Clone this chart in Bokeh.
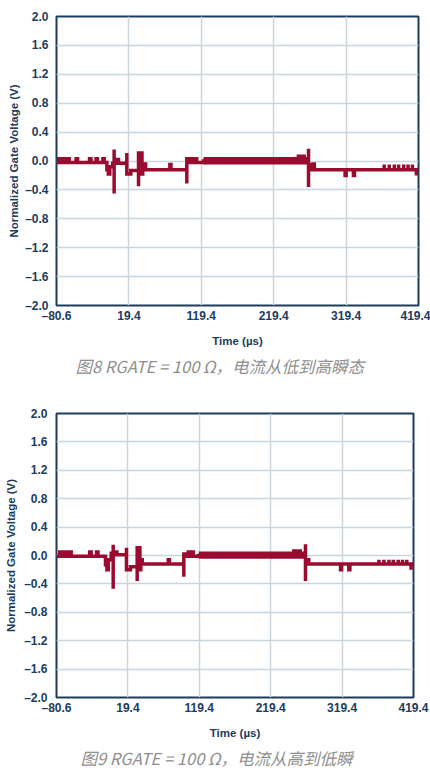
from bokeh.plotting import figure
from bokeh.layouts import column
from bokeh.models import Range1d, FixedTicker, CustomJSTickFormatter, Title
from bokeh.embed import file_html
from bokeh.resources import INLINE

# Axis ticks and labels shared by both oscilloscope captures
x_ticks = [-80.6, 19.4, 119.4, 219.4, 319.4, 419.4]
y_ticks = [-2.0, -1.6, -1.2, -0.8, -0.4, 0.0, 0.4, 0.8, 1.2, 1.6, 2.0]
x_label = "Time (µs)"
y_label = "Normalized Gate Voltage (V)"

caption_fig8 = "图8 RGATE = 100 Ω，电流从低到高瞬态"
caption_fig9 = "图9 RGATE = 100 Ω，电流从高到低瞬"

# Gate-voltage trace vertices (time in µs, normalized volts), low-to-high transient
trace_fig8 = [
    (-80.6, -0.02), (-77.5, -0.02), (-77.5, 0.03), (-75.5, 0.03), (-75.5, -0.02),
    (-71.0, -0.02), (-71.0, 0.03), (-69.0, 0.03), (-69.0, -0.02),
    (-65.0, -0.02), (-65.0, 0.03), (-63.0, 0.03), (-63.0, -0.02),
    (-53.5, -0.02), (-53.5, 0.03), (-51.5, 0.03), (-51.5, -0.02),
    (-35.0, -0.02), (-35.0, 0.03), (-33.0, 0.03), (-33.0, -0.02),
    (-26.0, -0.02), (-26.0, 0.03), (-24.0, 0.03), (-24.0, -0.02),
    (-16.5, -0.02), (-16.5, 0.03), (-14.5, 0.03), (-14.5, -0.02),
    (-11.0, -0.02), (-11.0, -0.12), (-9.0, -0.12), (-9.0, -0.18), (-7.0, -0.18),
    (-7.0, -0.08), (-3.0, -0.08), (-3.0, -0.03), (-1.0, -0.03),
    (-1.0, 0.16), (-1.0, -0.45), (-1.0, -0.03),
    (3.0, -0.03), (3.0, 0.02), (5.0, 0.02), (5.0, -0.03),
    (16.5, -0.03), (16.5, 0.11), (16.5, -0.18), (22.0, -0.18), (22.0, -0.13),
    (32.7, -0.13), (32.7, -0.35), (32.7, 0.11), (37.5, 0.11), (37.5, -0.18),
    (38.5, -0.18), (38.5, -0.12), (41.0, -0.12), (41.0, -0.04), (42.5, -0.04),
    (42.5, -0.12), (76.0, -0.12), (76.0, -0.05), (77.5, -0.05), (77.5, -0.12),
    (99.4, -0.12), (99.4, -0.31), (99.4, 0.03), (101.5, 0.03), (101.5, -0.02),
    (106.0, -0.02), (106.0, 0.03), (108.0, 0.03), (108.0, -0.02),
    (111.0, -0.02), (111.0, 0.03), (113.0, 0.03), (113.0, -0.02),
    (122.4, -0.02), (122.4, 0.0),
    (253.5, 0.0), (253.5, 0.065), (255.5, 0.065), (255.5, 0.0),
    (259.5, 0.0), (259.5, 0.065), (261.5, 0.065), (261.5, 0.0),
    (267.5, 0.0), (267.5, 0.17), (267.5, -0.36), (267.5, -0.05), (270.0, -0.05),
    (270.0, -0.12), (274.0, -0.12), (274.0, -0.04), (275.5, -0.04), (275.5, -0.12),
    (318.0, -0.12), (318.0, -0.2), (319.5, -0.2), (319.5, -0.12),
    (329.5, -0.12), (329.5, -0.2), (331.0, -0.2), (331.0, -0.12),
    (372.0, -0.12), (372.0, -0.05), (372.0, -0.12),
    (379.0, -0.12), (379.0, -0.05), (379.0, -0.12),
    (386.0, -0.12), (386.0, -0.05), (386.0, -0.12),
    (392.0, -0.12), (392.0, -0.05), (392.0, -0.12),
    (399.0, -0.12), (399.0, -0.05), (399.0, -0.12),
    (405.0, -0.12), (405.0, -0.05), (405.0, -0.12),
    (411.0, -0.12), (411.0, -0.05), (411.0, -0.12),
    (416.5, -0.12), (416.5, -0.2), (416.5, -0.12), (419.4, -0.12),
]
# Dense switching noise while the device is on (envelope of the trace)
band_fig8_t = [122.4, 267.5]
band_fig8_hi = [0.055, 0.055]
band_fig8_lo = [-0.05, -0.05]

# Gate-voltage trace vertices, high-to-low transient
trace_fig9 = [
    (-80.6, -0.01), (-76.0, -0.01), (-76.0, 0.05), (-74.0, 0.05), (-74.0, -0.01),
    (-69.0, -0.01), (-69.0, 0.05), (-67.0, 0.05), (-67.0, -0.01),
    (-62.0, -0.01), (-62.0, 0.05), (-60.0, 0.05), (-60.0, -0.01),
    (-34.0, -0.01), (-34.0, 0.05), (-32.0, 0.05), (-32.0, -0.01),
    (-24.5, -0.01), (-24.5, 0.05), (-22.5, 0.05), (-22.5, -0.01),
    (-12.0, -0.01), (-12.0, -0.13), (-10.0, -0.13), (-10.0, -0.2), (-8.0, -0.2),
    (-8.0, -0.06), (-4.0, -0.06), (-4.0, 0.03), (-1.2, 0.03),
    (-1.2, 0.15), (-1.2, -0.47), (-1.2, 0.01),
    (2.0, 0.01), (2.0, 0.05), (4.0, 0.05), (4.0, 0.01),
    (17.4, 0.01), (17.4, 0.11), (17.4, -0.2), (23.0, -0.2), (23.0, -0.16),
    (32.4, -0.16), (32.4, -0.36), (32.4, 0.11), (36.2, 0.11), (36.2, -0.2),
    (37.5, -0.2), (37.5, -0.06), (39.5, -0.06), (39.5, -0.12),
    (76.0, -0.12), (76.0, -0.06), (77.5, -0.06), (77.5, -0.12),
    (97.7, -0.12), (97.7, -0.3), (97.7, 0.02), (99.5, 0.02), (99.5, -0.01),
    (104.0, -0.01), (104.0, 0.05), (106.0, 0.05), (106.0, -0.01),
    (109.0, -0.01), (109.0, 0.05), (111.0, 0.05), (111.0, -0.01),
    (118.7, -0.01), (118.7, 0.0),
    (251.8, 0.0), (251.8, 0.065), (253.8, 0.065), (253.8, 0.0),
    (258.8, 0.0), (258.8, 0.065), (260.8, 0.065), (260.8, 0.0),
    (268.1, 0.0), (268.1, 0.16), (268.1, -0.36), (268.1, -0.06), (272.7, -0.06),
    (272.7, -0.12), (317.2, -0.12), (317.2, -0.2), (318.7, -0.2), (318.7, -0.12),
    (328.8, -0.12), (328.8, -0.2), (330.3, -0.2), (330.3, -0.12),
    (371.0, -0.12), (371.0, -0.06), (371.0, -0.12),
    (378.0, -0.12), (378.0, -0.06), (378.0, -0.12),
    (385.0, -0.12), (385.0, -0.06), (385.0, -0.12),
    (391.0, -0.12), (391.0, -0.06), (391.0, -0.12),
    (398.0, -0.12), (398.0, -0.06), (398.0, -0.12),
    (404.0, -0.12), (404.0, -0.06), (404.0, -0.12),
    (410.0, -0.12), (410.0, -0.06), (410.0, -0.12),
    (416.0, -0.12), (416.0, -0.2), (416.0, -0.12), (419.4, -0.12),
]
band_fig9_t = [118.7, 268.1]
band_fig9_hi = [0.055, 0.055]
band_fig9_lo = [-0.045, -0.045]

TRACE = "#990b2f"
NAVY = "#1c3c5e"
GRID = "#cbd5de"
FONT = "Liberation Sans"

dash_fmt = CustomJSTickFormatter(code="return tick.toFixed(1).replace('-', '\u2013');")


def scope_panel(trace, band_t, band_lo, band_hi, caption,
                fw, fh, left, right, top, bottom, cap_offset, ystand, ylab_stand):
    p = figure(frame_width=fw, frame_height=fh,
               min_border_left=left, min_border_right=right,
               min_border_top=top, min_border_bottom=bottom,
               x_range=Range1d(x_ticks[0], x_ticks[-1]),
               y_range=Range1d(y_ticks[0], y_ticks[-1]),
               output_backend="svg", toolbar_location=None)
    p.background_fill_color = "white"
    p.border_fill_color = "white"
    p.outline_line_color = NAVY
    p.outline_line_width = 2

    for ax in (p.xaxis[0], p.yaxis[0]):
        ax.axis_line_color = None
        ax.major_tick_line_color = None
        ax.minor_tick_line_color = None
        ax.major_tick_out = 0
        ax.major_tick_in = 0
        ax.minor_tick_out = 0
        ax.minor_tick_in = 0
        ax.major_label_text_font = FONT
        ax.major_label_text_font_style = "bold"
        ax.major_label_text_font_size = "12px"
        ax.major_label_text_color = NAVY
        ax.axis_label_text_font = FONT
        ax.axis_label_text_font_style = "bold"
        ax.axis_label_text_font_size = "11.5px"
        ax.axis_label_text_color = NAVY
        ax.formatter = dash_fmt

    p.xaxis.ticker = FixedTicker(ticks=x_ticks)
    p.yaxis.ticker = FixedTicker(ticks=y_ticks)
    p.xaxis.axis_label = x_label
    p.yaxis.axis_label = y_label
    p.xaxis.major_label_standoff = 3
    p.xaxis.axis_label_standoff = 9
    p.yaxis.major_label_standoff = ystand
    p.yaxis.axis_label_standoff = ylab_stand

    p.xgrid.grid_line_color = GRID
    p.ygrid.grid_line_color = GRID
    p.xgrid.grid_line_width = 1.5
    p.ygrid.grid_line_width = 1.5

    p.varea(x=band_t, y1=band_lo, y2=band_hi, fill_color=TRACE)
    ts = [t for t, v in trace]
    vs = [v for t, v in trace]
    p.line(ts, vs, line_color=TRACE, line_width=3.5, line_join="miter")

    p.add_layout(Title(text=caption, align="left", offset=cap_offset,
                       text_font="Noto Sans CJK SC", text_font_style="italic",
                       text_font_size="16.5px", text_color="#8f8f8f",
                       standoff=5), "below")
    return p


fig8 = scope_panel(trace_fig8, band_fig8_t, band_fig8_lo, band_fig8_hi, caption_fig8,
                   362, 289, 53, 15, 16, 80, 19, 8, 2)
fig9 = scope_panel(trace_fig9, band_fig9_t, band_fig9_lo, band_fig9_hi, caption_fig9,
                   357, 284, 56, 17, 28, 77, 24, 9, 4)

page = column(fig8, fig9, spacing=0)
open("out.html", "w").write(file_html(page, INLINE))
